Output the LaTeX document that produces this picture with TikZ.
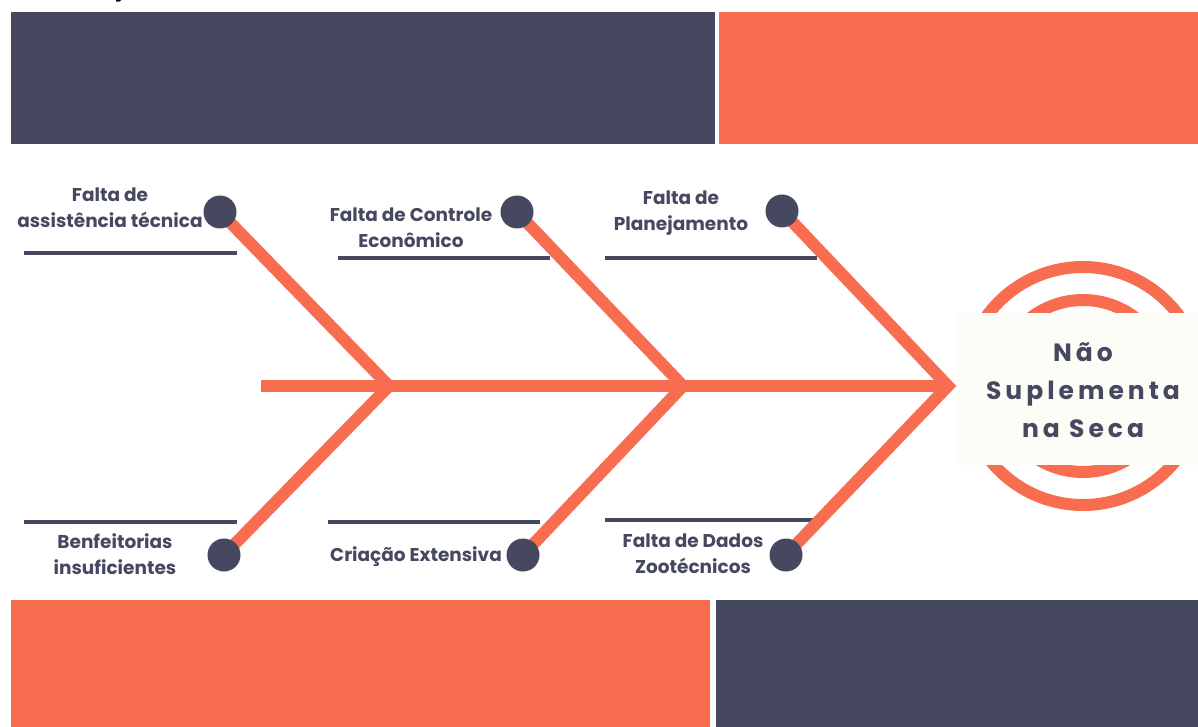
\documentclass[tikz,border=0pt]{standalone}
\usepackage{fontspec}
\setmainfont{Poppins}
\definecolor{navy}{HTML}{464860}
\definecolor{coral}{HTML}{F86C50}
\definecolor{cream}{HTML}{FCFDF6}
\begin{document}
\begin{tikzpicture}[x=1pt,y=-1pt,
  lbl/.style={text=navy,font=\fontsize{18.5}{26}\selectfont\bfseries,align=center,inner sep=0pt},
  uline/.style={navy,line width=4.5pt},
  bone/.style={coral,line width=12pt,miter limit=10},
  dot/.style={circle,fill=navy,minimum size=33pt,inner sep=0pt},
  ring/.style={coral,line width=12pt},
  headtxt/.style={text=navy,font=\fontsize{25}{38}\selectfont\bfseries\addfontfeatures{LetterSpace=16},align=center,inner sep=0pt}
]
\useasboundingbox (0,0) rectangle (1198,727);
\fill[white] (0,0) rectangle (1198,727);
\node[font=\fontsize{17}{17}\selectfont\bfseries,anchor=base,inner sep=0pt] (frag) at (118,-2) {ç};
% banners
\fill[navy] (11,12) rectangle (715,144);
\fill[coral] (719,12) rectangle (1198,144);
\fill[coral] (11,600) rectangle (710,727);
\fill[navy] (716,600) rectangle (1198,727);
% underlines
\draw[uline] (24,253) -- (237,253);
\draw[uline] (338,258) -- (550,258);
\draw[uline] (605,258) -- (817,258);
\draw[uline] (24,522) -- (237,522);
\draw[uline] (328,522) -- (540,522);
\draw[uline] (605,520) -- (817,520);
% coordinates
\coordinate (c1) at (220,212);
\coordinate (c2) at (224,555);
\coordinate (c3) at (517,212);
\coordinate (c4) at (523,555);
\coordinate (c5) at (782,211);
\coordinate (c6) at (786,555);
\coordinate (j1) at (389,386);
\coordinate (j2) at (683,386);
\coordinate (j3) at (948,386);
\coordinate (tail) at (261,386);
% head rings
\draw[ring] (1083,386) circle (119);
\draw[ring] (1083,386) circle (86);
% spine and bones
\draw[coral,line width=12pt] (tail) -- (j3);
\draw[bone] (c1) -- (j1) -- (c2);
\draw[bone] (c3) -- (j2) -- (c4);
\draw[bone] (c5) -- (j3) -- (c6);
% labels
\node[lbl] (t1) at (110,208) {Falta de\\assistência técnica};
\node[lbl] (t2) at (411,228) {Falta de Controle\\Econômico};
\node[lbl] (t3) at (681,213) {Falta de\\Planejamento};
\node[lbl] (t4) at (115,554) {Benfeitorias\\insuficientes};
\node[lbl] (t5) at (416,557) {Criação Extensiva};
\node[lbl] (t6) at (693,554) {Falta de Dados\\Zootécnicos};
% dots
\node[dot] (d1) at (c1) {};
\node[dot] (d2) at (c2) {};
\node[dot] (d3) at (c3) {};
\node[dot] (d4) at (c4) {};
\node[dot] (d5) at (c5) {};
\node[dot] (d6) at (c6) {};
% head box
\node[fill=cream,minimum width=241pt,minimum height=152pt,anchor=north west,inner sep=0pt] (hbox) at (957,313) {};
\node[headtxt] (htxt) at (1083,390) {Não\\Suplementa\\na Seca};
\end{tikzpicture}
\end{document}
